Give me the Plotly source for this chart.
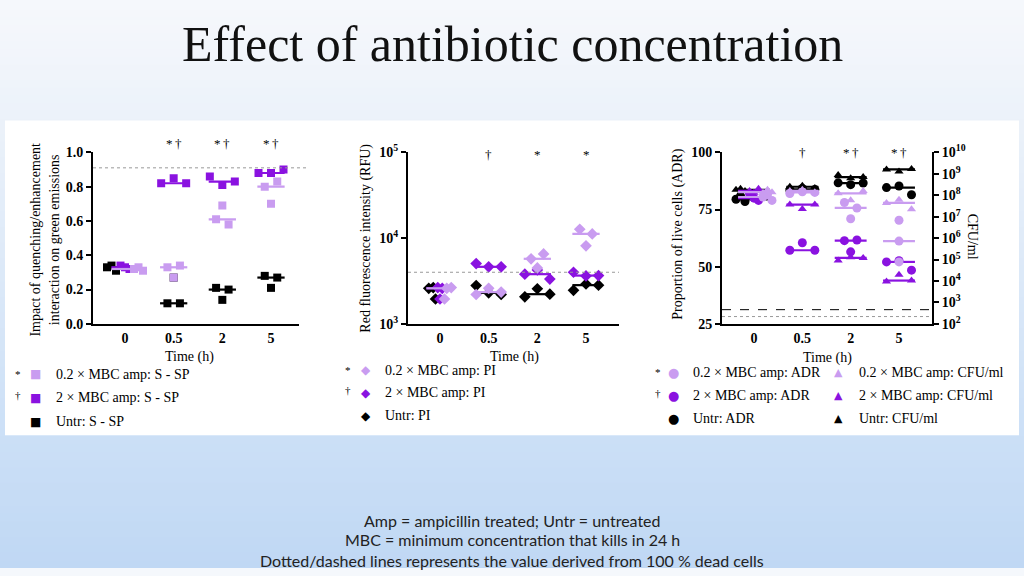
import numpy as np
import plotly.graph_objects as go

W, H = 1024, 576

# ---------------- data ----------------
TIME_LABELS = ["0", "0.5", "2", "5"]

# Panel 1: impact of quenching/enhancement (S - SP), 3 replicates per time
SP_UNTR = [[0.33, 0.34, 0.31], [0.12, 0.12, 0.27], [0.21, 0.14, 0.20], [0.28, 0.21, 0.27]]
SP_2X = [[0.34, 0.33, 0.32], [0.82, 0.85, 0.82], [0.86, 0.81, 0.83], [0.88, 0.88, 0.90]]
SP_02X = [[0.32, 0.33, 0.31], [0.33, 0.34, 0.27], [0.69, 0.61, 0.58], [0.80, 0.83, 0.70]]
SP_DEAD = 0.91

# Panel 2: red fluorescence intensity (PI, RFU)
PI_UNTR = [[2600, 2650, 1950], [2800, 2300, 2200], [2070, 2570, 2220], [2460, 2920, 2830]]
PI_2X = [[2650, 2600, 1950], [5050, 4630, 4630], [3800, 4250, 3330], [4000, 3630, 3660]]
PI_02X = [[2600, 2650, 1950], [2200, 2600, 2350], [5740, 6540, 4500], [12700, 8130, 11200]]
PI_DEAD = 4000

# Panel 3: proportion of live cells (ADR, %) and CFU/ml
ADR_UNTR = [[79.5, 81.0, 78.5], [83.6, 84.2, 83.8], [86.7, 85.9, 86.6], [84.6, 85.3, 81.5]]
ADR_2X = [[82.0, 80.0, 79.0], [57.2, 60.5, 57.2], [61.4, 56.5, 61.7], [52.1, 52.6, 48.5]]
ADR_02X = [[80.5, 81.5, 79.0], [82.0, 82.8, 82.5], [78.1, 75.7, 71.0], [70.3, 61.2, 52.1]]
CFU_UNTR = [[1.8e8, 2.0e8, 1.6e8], [2.5e8, 2.8e8, 2.2e8], [8.9e8, 6.3e8, 7.1e8], [1.6e9, 1.3e9, 1.7e9]]
CFU_2X = [[1.6e8, 1.3e8, 2.0e8], [3.7e7, 2.3e7, 3.7e7], [9.1e4, 1.3e5, 1.2e5], [9.5e3, 1.95e4, 1.05e4]]
CFU_02X = [[1.3e8, 1.8e8, 1.4e8], [1.6e8, 1.8e8, 1.4e8], [1.23e8, 5.9e7, 1.6e8], [4.4e7, 6.2e7, 2.2e7]]
ADR_DEAD = 28.2
CFU_DEAD = 460

SIG_P1 = ["", "*\u2009\u2020", "*\u2009\u2020", "*\u2009\u2020"]
SIG_P2 = ["", "\u2020", "*", "*"]
SIG_P3 = ["", "\u2020", "*\u2009\u2020", "*\u2009\u2020"]

# ---------------- styles ----------------
C_UNTR = "#000000"
C_2X = "#8a12e0"
C_02X = "#c99cf0"
SERIF = "Liberation Serif, DejaVu Serif, serif"
SANS = "Lato, Open Sans, sans-serif"


def px2x(px):
    return px / W


def px2y(py):
    return 1 - py / H


PLOT_TOP, PLOT_BOT = 147, 324
PANELS = {
    1: dict(x0=93, x1=299, c0=125, c1=271),
    2: dict(x0=408, x1=619, c0=440, c1=586),
    3: dict(x0=722, x1=932, c0=754, c1=899),
}


def xrange_for(p):
    unit = (p["c1"] - p["c0"]) / 3
    return [-(p["c0"] - p["x0"]) / unit, 3 + (p["x1"] - p["c1"]) / unit], unit


def cluster_offsets(pts, spacing_px, thresh_px):
    n = len(pts)
    order = sorted(range(n), key=lambda i: pts[i])
    clusters, cur = [], [order[0]]
    for a, b in zip(order, order[1:]):
        if abs(pts[b] - pts[a]) < thresh_px:
            cur.append(b)
        else:
            clusters.append(cur)
            cur = [b]
    clusters.append(cur)
    offs = [0.0] * n
    for c in clusters:
        cs = sorted(c)
        m = len(cs)
        for k, i in enumerate(cs):
            offs[i] = (k - (m - 1) / 2) * spacing_px
    return offs


def panel_offsets(series_list, to_px, unit_px):
    """Per-series swarm at t>0, a tight combined swarm at t=0 (all groups overlap)."""
    out = [[None] * len(s) for s in series_list]
    nt = len(series_list[0])
    for ti in range(nt):
        if ti == 0:
            pts, idx = [], []
            for si, s in enumerate(series_list):
                for r, v in enumerate(s[ti]):
                    pts.append(to_px(v))
                    idx.append((si, r))
            offs = cluster_offsets(pts, 4.5, 9.0)
            for si, s in enumerate(series_list):
                out[si][ti] = [0.0] * len(s[ti])
            for (si, r), o in zip(idx, offs):
                out[si][ti][r] = o / unit_px
        else:
            for si, s in enumerate(series_list):
                offs = cluster_offsets([to_px(v) for v in s[ti]], 12.5, 9.0)
                out[si][ti] = [o / unit_px for o in offs]
    return out


fig = go.Figure()


def add_series(data, offsets, xa, ya, color, symbol, size, halfw):
    xs, ys, lx, ly = [], [], [], []
    for ti, reps in enumerate(data):
        for v, o in zip(reps, offsets[ti]):
            xs.append(ti + o)
            ys.append(v)
        med = float(np.median(reps))
        lx += [ti - halfw, ti + halfw, None]
        ly += [med, med, None]
    fig.add_trace(go.Scatter(x=lx, y=ly, mode="lines", xaxis=xa, yaxis=ya,
                             line=dict(color=color, width=2.2), showlegend=False,
                             hoverinfo="skip"))
    fig.add_trace(go.Scatter(x=xs, y=ys, mode="markers", xaxis=xa, yaxis=ya,
                             marker=dict(color=color, symbol=symbol, size=size,
                                         line=dict(width=0)),
                             showlegend=False))


r1, u1 = xrange_for(PANELS[1])
r2, u2 = xrange_for(PANELS[2])
r3, u3 = xrange_for(PANELS[3])
ph = PLOT_BOT - PLOT_TOP

lin1 = lambda v: v * ph / 1.0
log2 = lambda v: np.log10(v) * ph / 2.0
lin3 = lambda v: v * ph / 75.0
log3 = lambda v: np.log10(v) * ph / 8.0

COLS = [C_UNTR, C_2X, C_02X]


def draw_panel(series, to_px, unit, xa, ya, symbol, size, halfw):
    offs = panel_offsets(series, to_px, unit)
    for s, o, c in zip(series, offs, COLS):
        add_series(s, o, xa, ya, c, symbol, size, halfw)


draw_panel([SP_UNTR, SP_2X, SP_02X], lin1, u1, "x", "y", "square", 8, 0.28)
draw_panel([PI_UNTR, PI_2X, PI_02X], log2, u2, "x2", "y2", "diamond", 9, 0.28)
draw_panel([CFU_UNTR, CFU_2X, CFU_02X], log3, u3, "x3", "y4", "triangle-up", 8, 0.33)
draw_panel([ADR_UNTR, ADR_2X, ADR_02X], lin3, u3, "x3", "y3", "circle", 9, 0.33)

tickfont = dict(family=SERIF, size=14, color="black", weight="bold")
common_x = dict(showline=True, linecolor="black", linewidth=2, showgrid=False,
                zeroline=False, tickvals=[0, 1, 2, 3], ticktext=TIME_LABELS,
                ticks="", tickfont=tickfont, fixedrange=True)
common_y = dict(showline=True, linecolor="black", linewidth=2, showgrid=False,
                zeroline=False, ticks="outside", ticklen=5, tickwidth=2,
                tickcolor="black", tickfont=tickfont,
                domain=[px2y(PLOT_BOT), px2y(PLOT_TOP)], fixedrange=True)


def sup(k):
    return "10<sup>%d</sup>" % k


fig.update_layout(
    width=W, height=H, autosize=False,
    margin=dict(l=0, r=0, t=0, b=0),
    paper_bgcolor="#f5f8fc", plot_bgcolor="rgba(0,0,0,0)",
    showlegend=False,
    xaxis=dict(common_x, domain=[px2x(93), px2x(299)], range=r1, anchor="y"),
    yaxis=dict(common_y, range=[0, 1], anchor="x",
               tickvals=[0, 0.2, 0.4, 0.6, 0.8, 1.0],
               ticktext=["0.0", "0.2", "0.4", "0.6", "0.8", "1.0"]),
    xaxis2=dict(common_x, domain=[px2x(408), px2x(619)], range=r2, anchor="y2"),
    yaxis2=dict(common_y, type="log", range=[3, 5], anchor="x2",
                tickvals=[1e3, 1e4, 1e5], ticktext=[sup(3), sup(4), sup(5)]),
    xaxis3=dict(common_x, domain=[px2x(722), px2x(932)], range=r3, anchor="y3"),
    yaxis3=dict(common_y, range=[25, 100], anchor="x3",
                tickvals=[25, 50, 75, 100]),
    yaxis4=dict(common_y, type="log", range=[2, 10], anchor="x3",
                overlaying="y3", side="right",
                tickvals=[10 ** k for k in range(2, 11)],
                ticktext=[sup(k) for k in range(2, 11)]),
)

# ---------------- background ----------------
shapes = []
GRAD_STOPS = [(0, (246, 248, 252)), (114, (236, 242, 250)),
              (440, (204, 224, 247)), (576, (192, 216, 244))]


def grad_color(py):
    for (y0, c0), (y1, c1) in zip(GRAD_STOPS, GRAD_STOPS[1:]):
        if y0 <= py <= y1:
            t = (py - y0) / (y1 - y0)
            return tuple(int(a + (b - a) * t) for a, b in zip(c0, c1))
    return GRAD_STOPS[-1][1]


STRIP = 8
for y in range(0, H, STRIP):
    c = grad_color(y + STRIP / 2)
    shapes.append(dict(type="rect", xref="paper", yref="paper",
                       x0=0, x1=1, y0=px2y(min(H, y + STRIP + 1)), y1=px2y(y),
                       fillcolor="rgb(%d,%d,%d)" % c,
                       line=dict(width=0), layer="below"))
shapes.append(dict(type="rect", xref="paper", yref="paper",
                   x0=px2x(5), x1=px2x(1019), y0=px2y(439), y1=px2y(114),
                   fillcolor="white", line=dict(width=0), layer="below"))
# reference lines (100 % dead cells)
shapes.append(dict(type="line", xref="x domain", yref="y", x0=0, x1=1.04,
                   y0=SP_DEAD, y1=SP_DEAD, line=dict(color="#999", width=1, dash="dot")))
shapes.append(dict(type="line", xref="x2 domain", yref="y2", x0=0, x1=1,
                   y0=PI_DEAD, y1=PI_DEAD, line=dict(color="#999", width=1, dash="dot")))
shapes.append(dict(type="line", xref="x3 domain", yref="y3", x0=0, x1=1,
                   y0=ADR_DEAD, y1=ADR_DEAD, line=dict(color="#999", width=1, dash="dot")))
shapes.append(dict(type="line", xref="x3 domain", yref="y4", x0=0, x1=1,
                   y0=CFU_DEAD, y1=CFU_DEAD, line=dict(color="black", width=1, dash="dash")))
fig.update_layout(shapes=shapes)

# ---------------- text ----------------
ann = []


def txt(text, x, y, size=14, family=SERIF, angle=0, xanchor="center", color="black", **kw):
    ann.append(dict(text=text, x=px2x(x), y=px2y(y), xref="paper", yref="paper",
                    showarrow=False, font=dict(family=family, size=size, color=color, **kw),
                    textangle=angle, xanchor=xanchor, yanchor="middle"))


txt("Effect of antibiotic concentration", 512, 35, size=50, color="#111")
txt("Amp = ampicillin treated; Untr = untreated", 512, 527, size=16, family=SANS, color="#222")
txt("MBC = minimum concentration that kills in 24 h", 512, 547, size=16, family=SANS, color="#222")
txt("Dotted/dashed lines represents the value derived from 100 % dead cells", 512, 568,
    size=16, family=SANS, color="#222")

# axis titles
txt("Impact of quenching/enhancement<br>interaction on green emissions", 45, 237, size=14, angle=-90)
txt("Red fluorescence intensity (RFU)", 366, 236, size=14, angle=-90)
txt("Proportion of live cells (ADR)", 678, 232, size=14, angle=-90)
txt("CFU/ml", 972, 234, size=14, angle=90)
txt("Time (h)", 189, 358, size=14)
txt("Time (h)", 514, 358, size=14)
txt("Time (h)", 827, 359, size=14)

# significance marks
for p, sig, yy in [(1, SIG_P1, 138), (2, SIG_P2, 149), (3, SIG_P3, 147)]:
    P = PANELS[p]
    unit = (P["c1"] - P["c0"]) / 3
    for i, s in enumerate(sig):
        if s:
            txt(s, P["c0"] + i * unit, yy, size=13, family=SERIF, color="#000")


# legends
def legend_block(x_star, x_sym, x_txt, ys, sym, labels, size_sym=13):
    cols = [C_02X, C_2X, C_UNTR]
    marks = ["*", "\u2020", ""]
    for y, col, mk, lab in zip(ys, cols, marks, labels):
        if mk:
            txt(mk, x_star, y - (3 if mk == "\u2020" else 0), size=11, family=SERIF)
        txt(sym, x_sym, y, size=size_sym, family="DejaVu Sans", color=col)
        txt(lab, x_txt, y, size=14, xanchor="left")


legend_block(18, 35, 54, [376, 400, 425], "\u25A0",
             ["0.2 \u00d7 MBC amp: S - SP", "2 \u00d7 MBC amp: S - SP", "Untr: S - SP"], 12)
legend_block(348, 366, 383, [372, 395, 419], "\u25C6",
             ["0.2 \u00d7 MBC amp: PI", "2 \u00d7 MBC amp: PI", "Untr: PI"], 12)
legend_block(658, 673, 691, [374, 398, 422], "\u25CF",
             ["0.2 \u00d7 MBC amp: ADR", "2 \u00d7 MBC amp: ADR", "Untr: ADR"], 13)
for y, col, lab in zip([374, 398, 422], [C_02X, C_2X, C_UNTR],
                       ["0.2 \u00d7 MBC amp: CFU/ml", "2 \u00d7 MBC amp: CFU/ml", "Untr: CFU/ml"]):
    txt("\u25B2", 838, y, size=11, family="DejaVu Sans", color=col)
    txt(lab, 857, y, size=14, xanchor="left")

fig.update_layout(annotations=ann)
fig.write_html("out.html", config={"displayModeBar": False},
               post_script="document.body.style.margin='0';")
